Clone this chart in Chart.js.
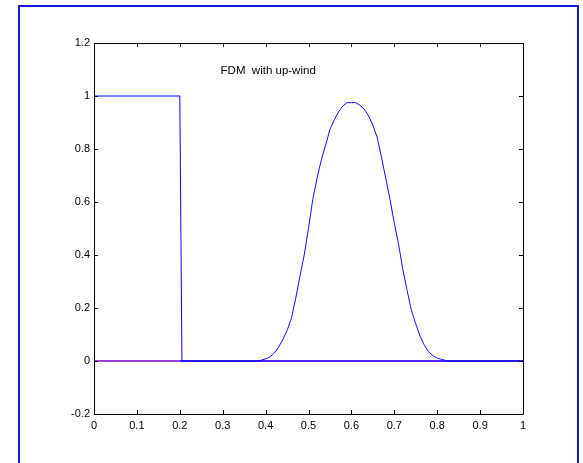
<!DOCTYPE html>
<html>
<head>
<meta charset="utf-8">
<script src="https://cdn.jsdelivr.net/npm/chart.js@4.4.0/dist/chart.umd.min.js"></script>
<style>
body{margin:0;background:#fff;overflow:hidden;}
#frame{position:absolute;left:18px;top:5px;width:557px;height:480px;border:2px solid #1a1ad8;}
#wrap{position:absolute;left:0;top:0;width:583px;height:463px;}
</style>
</head>
<body>
<div id="frame"></div>
<div id="wrap"><canvas id="main-chart" width="583" height="463"></canvas></div>
<script>
// initial square pulse
const initX=[0,0.2,0.205,1];
const initY=[1,1,0,0];

// computed solution (upwind), sampled every 0.01 around the bump
const solX=[0.2,0.25,0.3,0.35,0.38,0.39,0.40,0.41,0.42,0.43,0.44,0.45,0.46,0.47,0.48,0.49,
    0.50,0.51,0.52,0.53,0.54,0.55,0.56,0.57,0.58,0.59,0.60,0.61,0.62,0.63,0.64,0.65,0.66,0.67,0.68,0.69,
    0.70,0.71,0.72,0.73,0.74,0.75,0.76,0.77,0.78,0.79,0.80,0.81,0.82,0.83,0.9,1];
const solY=[0,0,0,0,0,0.003,0.008,0.015,0.03,0.052,0.08,0.115,0.16,0.235,0.32,0.40,
    0.50,0.61,0.69,0.76,0.815,0.874,0.91,0.94,0.962,0.975,0.975,0.975,0.965,0.95,0.925,0.89,0.845,0.77,0.69,0.61,
    0.52,0.44,0.345,0.265,0.19,0.14,0.094,0.06,0.035,0.02,0.011,0.006,0.002,0,0,0];

// baseline
const zeroX=[0,1];
const zeroY=[0,0];

const xTicks=[0,0.1,0.2,0.3,0.4,0.5,0.6,0.7,0.8,0.9,1];
const yTicks=[-0.2,0,0.2,0.4,0.6,0.8,1,1.2];
const titleText="FDM  with up-wind";

function pts(xs,ys){
    return xs.map((x,i)=>({x:x,y:ys[i]}));
}
function fmt(v){
    return String(Math.round(v*10)/10);
}

const boxPlugin={
    id:'box',
    afterDraw(chart){
        const ctx=chart.ctx;
        const a=chart.chartArea;
        const xs=chart.scales.x, ys=chart.scales.y;
        ctx.save();
        ctx.strokeStyle='#000';
        ctx.lineWidth=1;
        ctx.beginPath();
        ctx.rect(Math.round(a.left)+0.5,Math.round(a.top)+0.5,Math.round(a.right-a.left),Math.round(a.bottom-a.top));
        ctx.stroke();
        ctx.beginPath();
        xTicks.forEach(v=>{
            const px=Math.round(xs.getPixelForValue(v))+0.5;
            ctx.moveTo(px,a.bottom);ctx.lineTo(px,a.bottom-4);
            ctx.moveTo(px,a.top);ctx.lineTo(px,a.top+4);
        });
        yTicks.forEach(v=>{
            const py=Math.round(ys.getPixelForValue(v))+0.5;
            ctx.moveTo(a.left,py);ctx.lineTo(a.left+4,py);
            ctx.moveTo(a.right,py);ctx.lineTo(a.right-4,py);
        });
        ctx.stroke();
        ctx.fillStyle='#000';
        ctx.font='11.5px "Liberation Sans", Arial, sans-serif';
        ctx.textAlign='left';
        ctx.textBaseline='middle';
        ctx.fillText(titleText,xs.getPixelForValue(0.295),ys.getPixelForValue(1.095));
        ctx.restore();
    }
};

const ctx=document.getElementById("main-chart").getContext("2d");
const mychart=new Chart(ctx,{
    type:'line',
    data:{
        datasets:[
            {data:pts(initX,initY),borderColor:'#0000ff',borderWidth:1,pointRadius:0,tension:0,order:1},
            {data:pts(solX,solY),borderColor:'#1010ff',borderWidth:1,pointRadius:0,tension:0,order:2},
            {data:pts(zeroX,zeroY),borderColor:'#9a40e0',borderWidth:2,pointRadius:0,tension:0,order:3}
        ]
    },
    options:{
        responsive:false,
        animation:false,
        events:[],
        layout:{padding:{left:54,right:60,top:43,bottom:19}},
        plugins:{legend:{display:false},tooltip:{enabled:false}},
        scales:{
            x:{
                type:'linear',min:0,max:1,
                grid:{display:false,drawTicks:false},
                border:{display:false},
                afterBuildTicks:(s)=>{s.ticks=xTicks.map(v=>({value:v}));},
                afterFit:(s)=>{s.height=30;},
                ticks:{padding:5,color:'#000',maxRotation:0,autoSkip:false,
                    font:{family:'"Liberation Sans", Arial, sans-serif',size:11},
                    callback:(v)=>fmt(v)}
            },
            y:{
                type:'linear',min:-0.2,max:1.2,
                grid:{display:false,drawTicks:false},
                border:{display:false},
                afterBuildTicks:(s)=>{s.ticks=yTicks.map(v=>({value:v}));},
                afterFit:(s)=>{s.width=40;},
                ticks:{padding:4,color:'#000',autoSkip:false,
                    font:{family:'"Liberation Sans", Arial, sans-serif',size:11},
                    callback:(v)=>fmt(v)}
            }
        }
    },
    plugins:[boxPlugin]
});
</script>
</body>
</html>
